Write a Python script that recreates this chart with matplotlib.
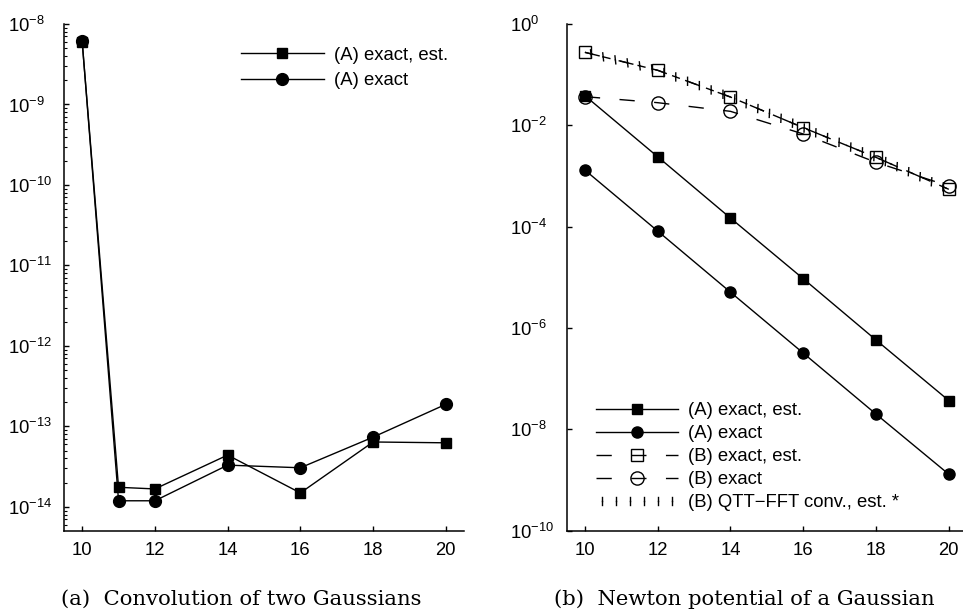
import matplotlib
matplotlib.use("Agg")
import matplotlib.pyplot as plt
import matplotlib.ticker as mticker
import matplotlib.patheffects as pe
from matplotlib.lines import Line2D
import numpy as np

plt.rcParams['font.family'] = ['Liberation Sans', 'DejaVu Sans']
plt.rcParams['mathtext.default'] = 'regular'
plt.rcParams['lines.scale_dashes'] = False

# ---- data: panel (a)
xa_est = [10, 11, 12, 14, 16, 18, 20]
ya_est = [6.0e-9, 1.75e-14, 1.67e-14, 4.4e-14, 1.49e-14, 6.4e-14, 6.25e-14]
xa_ex = [10, 11, 12, 14, 16, 18, 20]
ya_ex = [6.1e-9, 1.19e-14, 1.19e-14, 3.3e-14, 3.06e-14, 7.35e-14, 1.88e-13]

# ---- data: panel (b)
xb = [10, 12, 14, 16, 18, 20]
A_est = [3.85e-2, 2.4e-3, 1.48e-4, 9.4e-6, 5.8e-7, 3.7e-8]
A_ex = [1.31e-3, 8.2e-5, 5.1e-6, 3.2e-7, 2.0e-8, 1.3e-9]
B_est = [0.276, 0.122, 3.62e-2, 9.0e-3, 2.33e-3, 5.46e-4]
B_ex = [3.68e-2, 2.8e-2, 1.89e-2, 6.75e-3, 1.86e-3, 6.35e-4]
Q_est = [0.276, 0.122, 3.62e-2, 9.0e-3, 2.33e-3, 5.46e-4]

labels_a = ["(A) exact, est.", "(A) exact"]
labels_b = ["(A) exact, est.", "(A) exact", "(B) exact, est.", "(B) exact",
            "(B) QTT\u2212FFT conv., est. *"]
xticks = [10, 12, 14, 16, 18, 20]
yticks_a = [1e-8, 1e-9, 1e-10, 1e-11, 1e-12, 1e-13, 1e-14]
yticks_b = [1e0, 1e-2, 1e-4, 1e-6, 1e-8, 1e-10]

W, H = 963, 614
fig = plt.figure(figsize=(W / 100, H / 100), dpi=100)

def ax_rect(l, r, t, b):
    return [l / W, 1 - b / H, (r - l) / W, (b - t) / H]

FS = 13.3
LFS = 13.3
axa = fig.add_axes(ax_rect(64, 464, 24, 531))
axb = fig.add_axes(ax_rect(566.7, 967, 24, 530.7))

for ax in (axa, axb):
    ax.set_yscale('log')
    ax.spines['top'].set_visible(False)
    ax.spines['right'].set_visible(False)
    for s in ('left', 'bottom'):
        ax.spines[s].set_linewidth(1.1)
    ax.set_xlim(9.5, 20.5)
    ax.set_xticks(xticks)
    ax.tick_params(axis='both', which='major', direction='in', length=3.5,
                   width=1, labelsize=FS)
    ax.tick_params(axis='both', which='minor', direction='in', length=2, width=0.8)
    ax.tick_params(axis='y', pad=40.5)
    ax.tick_params(axis='x', pad=8)

lw = 1.0
# panel (a)
axa.plot(xa_est, ya_est, color='black', lw=lw, marker='s', ms=7, label=labels_a[0])
axa.plot(xa_ex, ya_ex, color='black', lw=lw, marker='o', ms=8.5, label=labels_a[1])
axa.set_ylim(10 ** -14.3, 1e-8)
axa.set_yticks(yticks_a)
axa.yaxis.set_major_formatter(mticker.LogFormatterSciNotation())
axa.yaxis.set_minor_locator(mticker.LogLocator(base=10, subs=np.arange(2, 10), numticks=20))
axa.yaxis.set_minor_formatter(mticker.NullFormatter())
axa.legend(loc='upper left', bbox_to_anchor=(0.442, 0.955), frameon=False,
           fontsize=LFS, handlelength=4.5, handletextpad=0.55, borderpad=0,
           borderaxespad=0, labelspacing=0.45)

# panel (b)
dash = (0, (11, 14))
axb.plot(xb, A_est, color='black', lw=lw, marker='s', ms=7, label=labels_b[0])
axb.plot(xb, A_ex, color='black', lw=lw, marker='o', ms=8, label=labels_b[1])
axb.plot(xb, B_est, color='black', lw=lw, ls=dash, marker='s', ms=8,
         mfc='none', mew=1.0, label=labels_b[2])
axb.plot(xb, B_ex, color='black', lw=lw, ls=dash, marker='o', ms=9.5,
         mfc='none', mew=1.0, label=labels_b[3])
axb.plot(xb, Q_est, color='black', lw=lw, ls=(0, (6, 7)))
ticks_line = [pe.TickedStroke(spacing=9, angle=110, length=0.32),
              pe.TickedStroke(spacing=9, angle=-70, length=0.32)]
axb.plot(xb, Q_est, color='black', lw=lw, path_effects=ticks_line)
axb.set_ylim(1e-10, 1)
axb.set_yticks(yticks_b)
axb.yaxis.set_minor_locator(mticker.NullLocator())
axb.yaxis.set_major_formatter(mticker.LogFormatterSciNotation())

h = axb.get_lines()[:4]
q_handle = Line2D([], [], color='black', lw=lw,
                  path_effects=[pe.TickedStroke(spacing=9, angle=90, length=0.32),
                                pe.TickedStroke(spacing=9, angle=-90, length=0.32)])
axb.legend(list(h) + [q_handle], labels_b, loc='upper left',
           bbox_to_anchor=(0.073, 0.254), frameon=False, fontsize=LFS,
           handlelength=4.45, handletextpad=0.55, borderpad=0, borderaxespad=0,
           labelspacing=0.33)

for ax in (axa, axb):
    for lab in ax.get_yticklabels():
        lab.set_horizontalalignment('left')

fig.text(241 / W, 1 - 599 / H, "(a)  Convolution of two Gaussians",
         family='DejaVu Serif', fontsize=15.2, ha='center', va='center')
fig.text(744 / W, 1 - 599 / H, "(b)  Newton potential of a Gaussian",
         family='DejaVu Serif', fontsize=15.2, ha='center', va='center')

fig.savefig("out.png", dpi=100)
